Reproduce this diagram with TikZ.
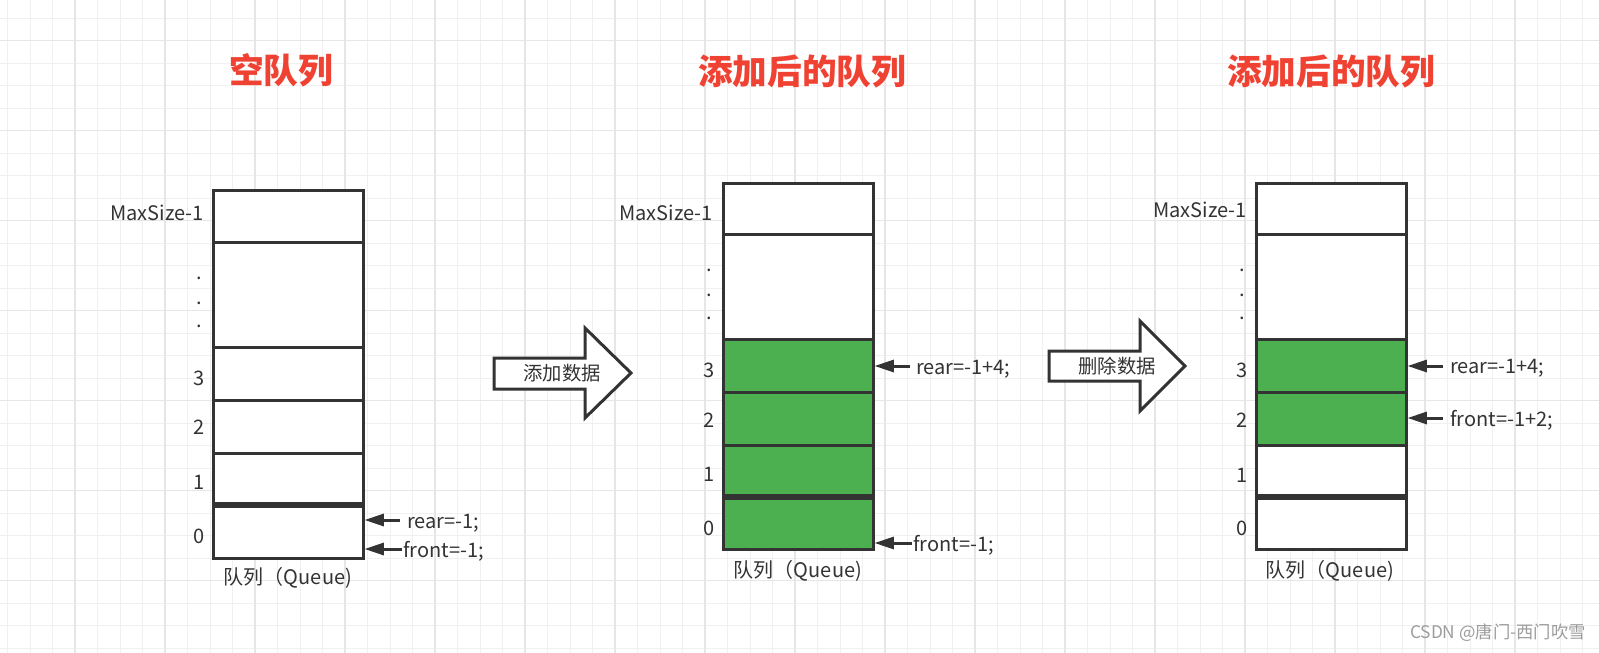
\documentclass[tikz,border=0pt]{standalone}
\usepackage{fontspec}
\setmainfont{Noto Sans CJK SC}
\usetikzlibrary{arrows.meta}

\definecolor{ink}{HTML}{333333}
\definecolor{titlered}{RGB}{240,66,50}
\definecolor{cellgreen}{RGB}{76,175,80}
\definecolor{gridminor}{HTML}{F0F0F0}
\definecolor{gridmajor}{HTML}{E6E6E6}
\definecolor{wmgray}{HTML}{9C9C9C}

\tikzset{
  cell/.style={draw=ink, line width=2.25pt, shape=rectangle, inner sep=0pt, minimum width=112.5pt},
  lbl/.style={text=ink, inner sep=0pt, font=\fontsize{15}{18}\selectfont},
  heading/.style={text=titlered, inner sep=0pt, font=\fontsize{26}{30}\selectfont\bfseries},
  ptr/.style={draw=ink, line width=2.25pt, -{Triangle[length=14.5pt,width=9pt]}},
  fat/.style={draw=ink, line width=2.25pt, fill=white, line join=miter},
}

\begin{document}
\begin{tikzpicture}[x=0.75pt, y=-0.75pt]
   \useasboundingbox (0,0) rectangle (1599,653);
   \fill[white] (0,0) rectangle (1599,653);
   % grid paper
   \foreach \gx in {7.5,30,...,1599} \draw[gridminor, line width=0.75pt] (\gx,0) -- (\gx,653);
   \foreach \gy in {18.2,40.7,...,653} \draw[gridminor, line width=0.75pt] (0,\gy) -- (1599,\gy);
   \foreach \gx in {75,165,...,1599} \draw[gridmajor, line width=0.9pt] (\gx,0) -- (\gx,653);
   \foreach \gy in {40.7,130.7,...,653} \draw[gridmajor, line width=0.9pt] (0,\gy) -- (1599,\gy);

   % titles
   \path (281,70) node[heading] (T1) {空队列};
   \path (802,71) node[heading] (T2) {添加后的队列};
   \path (1331,71) node[heading] (T3) {添加后的队列};

   % empty queue
   \foreach \r/\cy/\h in {m/216/52, d/294.5/105, 3/373.5/53, 2/426.5/53, 1/478/50, 0/532/52}
     \path (288,\cy) node[cell, fill=white, minimum height=\h*0.75pt] (A\r) {};
   \path (204,213) node[lbl, anchor=east] (AMax) {MaxSize-1};
   \foreach \dy [count=\i] in {279,304,327}
     \path (199,\dy) node[lbl, anchor=base] (Adot\i) {.};
   \foreach \r/\ly in {3/378, 2/427, 1/482, 0/536}
     \path (199,\ly) node[lbl] (Anum\r) {\r};
   \path (288,578) node[lbl] (AName) {队列（Queue)};
   \path (407,528) node[lbl, anchor=base west] (ARear) {rear=-1;};
   \path (403,557) node[lbl, anchor=base west] (AFront) {front=-1;};
   \coordinate (ARearT) at (400,520);
   \coordinate (AFrontT) at (402,549);
   \draw[ptr] (ARearT) -- (A0.east |- ARearT);
   \draw[ptr] (AFrontT) -- (A0.east |- AFrontT);

   % add arrow
   \draw[fat] (494,358) -- (585,358) -- (585,328) -- (631,373) -- (585,418) -- (585,389) -- (494,389) -- cycle;
   \path (562,373) node[lbl, font=\fontsize{14.5}{17}\selectfont] (Add) {添加数据};

   % queue after adding
   \foreach \r/\cy/\h/\f in {m/208.5/51/white, d/286.5/105/white, 3/365.5/53/cellgreen, 2/418.5/53/cellgreen, 1/470/50/cellgreen, 0/523.5/51/cellgreen}
     \path (798,\cy) node[cell, fill=\f, minimum height=\h*0.75pt] (B\r) {};
   \path (713,213) node[lbl, anchor=east] (BMax) {MaxSize-1};
   \foreach \dy [count=\i] in {271.5,296.5,319.5}
     \path (709,\dy) node[lbl, anchor=base] (Bdot\i) {.};
   \foreach \r/\ly in {3/370, 2/420, 1/474, 0/528}
     \path (709,\ly) node[lbl] (Bnum\r) {\r};
   \path (798,571) node[lbl] (BName) {队列（Queue)};
   \path (916,374) node[lbl, anchor=base west] (BRear) {rear=-1+4;};
   \path (913,551) node[lbl, anchor=base west] (BFront) {front=-1;};
   \coordinate (BRearT) at (910,366);
   \coordinate (BFrontT) at (912,543);
   \draw[ptr] (BRearT) -- (B3.east |- BRearT);
   \draw[ptr] (BFrontT) -- (B0.east |- BFrontT);

   % delete arrow
   \draw[fat] (1049,351) -- (1140,351) -- (1140,321) -- (1185,366) -- (1140,411) -- (1140,381) -- (1049,381) -- cycle;
   \path (1117,366) node[lbl, font=\fontsize{14.5}{17}\selectfont] (Del) {删除数据};

   % queue after deleting
   \foreach \r/\cy/\h/\f in {m/208.5/51/white, d/286.5/105/white, 3/365.5/53/cellgreen, 2/418.5/53/cellgreen, 1/470/50/white, 0/523.5/51/white}
     \path (1331,\cy) node[cell, fill=\f, minimum height=\h*0.75pt] (C\r) {};
   \path (1247,210) node[lbl, anchor=east] (CMax) {MaxSize-1};
   \foreach \dy [count=\i] in {271.5,296.5,319.5}
     \path (1242,\dy) node[lbl, anchor=base] (Cdot\i) {.};
   \foreach \r/\ly in {3/370.5, 2/420, 1/475, 0/528}
     \path (1242,\ly) node[lbl] (Cnum\r) {\r};
   \path (1330,571) node[lbl] (CName) {队列（Queue)};
   \path (1450,373) node[lbl, anchor=base west] (CRear) {rear=-1+4;};
   \path (1450,426.5) node[lbl, anchor=base west] (CFront) {front=-1+2;};
   \coordinate (CRearT) at (1443,366);
   \coordinate (CFrontT) at (1443,418);
   \draw[ptr] (CRearT) -- (C3.east |- CRearT);
   \draw[ptr] (CFrontT) -- (C2.east |- CFrontT);

   % watermark
   \path (1586,633) node[anchor=east, inner sep=0pt, text=wmgray, font=\fontsize{13}{15}\selectfont] (Mark) {CSDN @唐门-西门吹雪};
\end{tikzpicture}
\end{document}
